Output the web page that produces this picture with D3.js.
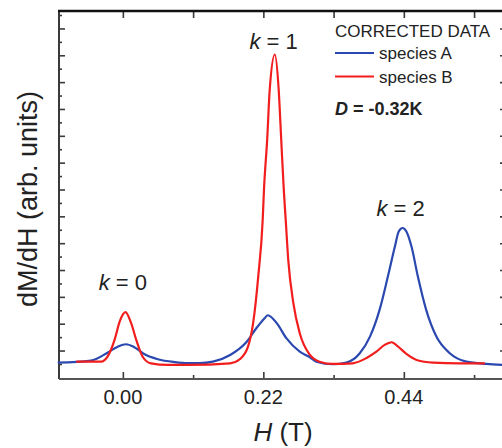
<!DOCTYPE html>
<html>
<head>
<meta charset="utf-8">
<script src="https://cdn.jsdelivr.net/npm/d3@7"></script>
<style>
  body { margin: 0; background: #fff; }
  svg text { font-family: "Liberation Sans", Arial, sans-serif; fill: #222; }
</style>
</head>
<body>
<svg id="chart"></svg>
<script>
// values: [H (T), dM/dH (arb.)]
const speciesA = [
  [-0.102, 0.10], [-0.050, 0.25], [-0.024, 0.84], [-0.008, 1.29], [0.005, 1.47],
  [0.018, 1.25], [0.034, 0.72], [0.055, 0.35], [0.081, 0.14], [0.102, 0.06],
  [0.120, 0.06], [0.141, 0.17], [0.168, 0.67], [0.194, 1.66], [0.209, 2.66],
  [0.222, 3.41], [0.227, 3.63], [0.241, 3.04], [0.256, 1.92], [0.277, 0.92],
  [0.293, 0.50], [0.303, 0.17], [0.329, -0.02], [0.350, 0.10], [0.371, 0.80],
  [0.387, 2.04], [0.402, 4.03], [0.415, 6.51], [0.426, 8.75], [0.432, 9.87],
  [0.438, 10.13], [0.444, 9.87], [0.452, 8.75], [0.462, 6.51], [0.475, 4.03],
  [0.491, 2.04], [0.512, 0.80], [0.538, 0.17], [0.569, 0.00], [0.600, -0.07]
];
const speciesB = [
  [-0.073, 0.17], [-0.034, 0.17], [-0.024, 0.54], [-0.013, 1.79], [-0.005, 3.16],
  [0.004, 3.86], [0.013, 3.04], [0.021, 1.79], [0.031, 0.54], [0.044, 0.05],
  [0.070, -0.07], [0.102, -0.07], [0.168, 0.05], [0.183, 0.35], [0.196, 1.29],
  [0.204, 3.04], [0.212, 6.51], [0.219, 10.75], [0.221, 12.99], [0.226, 16.72],
  [0.230, 20.45], [0.238, 23.06], [0.244, 20.45], [0.248, 16.72], [0.252, 12.99],
  [0.255, 10.75], [0.259, 7.76], [0.267, 4.53], [0.277, 2.29], [0.293, 0.67],
  [0.308, 0.17], [0.329, 0.00], [0.360, 0.05], [0.381, 0.43], [0.397, 0.92],
  [0.410, 1.42], [0.421, 1.62], [0.431, 1.29], [0.444, 0.75], [0.460, 0.30],
  [0.486, 0.10], [0.527, 0.05], [0.567, 0.05]
];
const xTickValues = [0, 0.11, 0.22, 0.33, 0.44, 0.55];
const xTickLabels = ["0.00", "", "0.22", "", "0.44", ""];
const peakLabels = [
  { k: "0", H: 0.0, v: 5.5 },
  { k: "1", H: 0.236, v: 23.5 },
  { k: "2", H: 0.435, v: 11.0 }
];
const legendItems = [
  { name: "species A", color: "#2a48b0" },
  { name: "species B", color: "#f21d1d" }
];

const width = 502, height = 448;
const margin = { top: 11, right: -4, bottom: 69, left: 59 };

const svg = d3.select("#chart").attr("width", width).attr("height", height);

const x = d3.scaleLinear().domain([-0.1, 0.6]).range([margin.left, width - margin.right]);
const y = d3.scaleLinear().domain([-1.12, 26.3]).range([height - margin.bottom, margin.top]);

const axisColor = "#3a3a3a";

// left ticks, alternating long/short, pointing inward
const yAll = d3.range(0, 27);
const yLong = yAll.filter(d => d % 2 === 1);
const yShort = yAll.filter(d => d % 2 === 0);

function styleAxis(g) {
  g.select(".domain").remove();
  g.selectAll(".tick line").attr("stroke", axisColor).attr("stroke-width", 1.6);
  g.selectAll(".tick text").remove();
}

svg.append("g").attr("transform", `translate(${margin.left},0)`)
  .call(d3.axisLeft(y).tickValues(yLong).tickSize(-6)).call(styleAxis);
svg.append("g").attr("transform", `translate(${margin.left},0)`)
  .call(d3.axisLeft(y).tickValues(yShort).tickSize(-3)).call(styleAxis);
svg.append("g").attr("transform", `translate(${width - margin.right},0)`)
  .call(d3.axisRight(y).tickValues(yLong).tickSize(-6)).call(styleAxis);
svg.append("g").attr("transform", `translate(${width - margin.right},0)`)
  .call(d3.axisRight(y).tickValues(yShort).tickSize(-3)).call(styleAxis);

// top ticks
svg.append("g").attr("transform", `translate(0,${margin.top})`)
  .call(d3.axisTop(x).tickValues(xTickValues).tickSize(-7)).call(styleAxis);

// bottom ticks: labelled ones longer
svg.append("g").attr("transform", `translate(0,${height - margin.bottom})`)
  .call(d3.axisBottom(x).tickValues(xTickValues.filter((d, i) => xTickLabels[i])).tickSize(-7)).call(styleAxis);
svg.append("g").attr("transform", `translate(0,${height - margin.bottom})`)
  .call(d3.axisBottom(x).tickValues(xTickValues.filter((d, i) => !xTickLabels[i])).tickSize(-4)).call(styleAxis);

// tick labels
svg.append("g").selectAll("text")
  .data(xTickValues.map((d, i) => [d, xTickLabels[i]]).filter(d => d[1]))
  .enter().append("text")
  .attr("x", d => x(d[0]))
  .attr("y", 404)
  .attr("text-anchor", "middle")
  .style("font-size", "20px")
  .text(d => d[1]);

// frame
svg.append("line").attr("x1", margin.left).attr("x2", margin.left)
  .attr("y1", margin.top).attr("y2", height - margin.bottom)
  .attr("stroke", axisColor).attr("stroke-width", 2);
svg.append("line").attr("x1", margin.left).attr("x2", width - margin.right)
  .attr("y1", height - margin.bottom).attr("y2", height - margin.bottom)
  .attr("stroke", "#555").attr("stroke-width", 2);
svg.append("line").attr("x1", margin.left - 1).attr("x2", width - margin.right)
  .attr("y1", margin.top).attr("y2", margin.top)
  .attr("stroke", "#111").attr("stroke-width", 2.5);

// curves
const line = d3.line().x(d => x(d[0])).y(d => y(d[1])).curve(d3.curveMonotoneX);
svg.append("path").datum(speciesA)
  .attr("fill", "none").attr("stroke", legendItems[0].color).attr("stroke-width", 2.2)
  .attr("d", line);
svg.append("path").datum(speciesB)
  .attr("fill", "none").attr("stroke", legendItems[1].color).attr("stroke-width", 2.2)
  .attr("d", line);

// peak labels
const pk = svg.append("g").selectAll("text").data(peakLabels).enter().append("text")
  .attr("x", d => x(d.H))
  .attr("y", d => y(d.v))
  .attr("text-anchor", "middle")
  .style("font-size", "22px");
pk.append("tspan").style("font-style", "italic").text("k");
pk.append("tspan").text(d => " = " + d.k);

// legend
svg.append("text").attr("x", 335).attr("y", 37).style("font-size", "17px").text("CORRECTED DATA");
const lg = svg.append("g").selectAll("g").data(legendItems).enter().append("g")
  .attr("transform", (d, i) => `translate(335,${53 + i * 23.5})`);
lg.append("line").attr("x1", 0).attr("x2", 39).attr("y1", 0).attr("y2", 0)
  .attr("stroke", d => d.color).attr("stroke-width", 2.2);
lg.append("text").attr("x", 44).attr("y", 6).style("font-size", "17px").text(d => d.name);

const dt = svg.append("text").attr("x", 335).attr("y", 115)
  .style("font-size", "18px").style("font-weight", "bold");
dt.append("tspan").style("font-style", "italic").text("D");
dt.append("tspan").text(" = -0.32K");

// axis titles
const xt = svg.append("text").attr("x", 283).attr("y", 441)
  .attr("text-anchor", "middle").style("font-size", "26px");
xt.append("tspan").style("font-style", "italic").text("H");
xt.append("tspan").text(" (T)");

svg.append("text")
  .attr("transform", "translate(37,199) rotate(-90)")
  .attr("text-anchor", "middle")
  .style("font-size", "27px")
  .text("dM/dH (arb. units)");
</script>
</body>
</html>
